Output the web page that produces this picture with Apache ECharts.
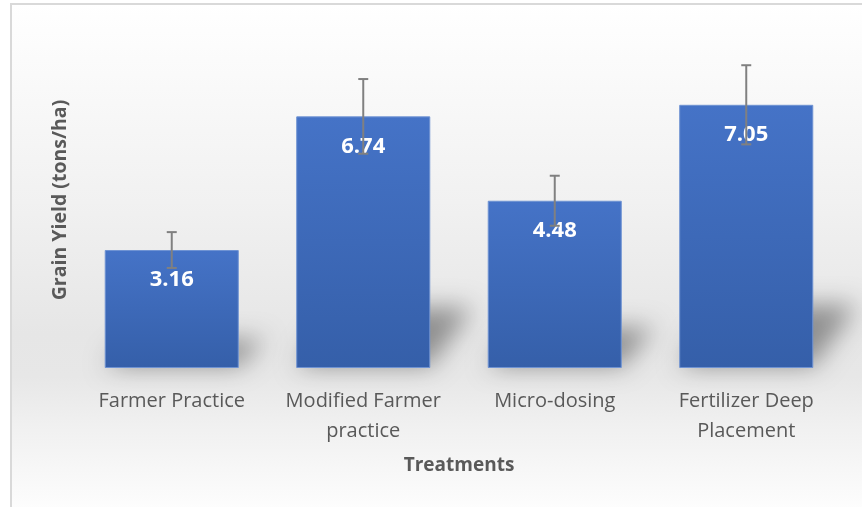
<!DOCTYPE html>
<html>
<head>
<meta charset="utf-8">
<script src="https://cdn.jsdelivr.net/npm/echarts@6/dist/echarts.min.js"></script>
<style>html,body{margin:0;padding:0;background:#fff}#c{width:862px;height:507px}</style>
</head>
<body>
<div id="c"></div>
<script>
var categories = ['Farmer Practice', 'Modified Farmer\npractice', 'Micro-dosing', 'Fertilizer Deep\nPlacement'];
var yields = [3.16, 6.74, 4.48, 7.05];
var errors = [0.48, 1.0, 0.67, 1.06];

var chart = echarts.init(document.getElementById('c'));
var FONT = 'Open Sans';

function shadowItem(params, api) {
  var i = params.dataIndex;
  var base = api.coord([i, 0]);
  var top = api.coord([i, api.value(1)]);
  var w = api.size([1, 0])[0] * 0.7;
  var x0 = base[0] - w / 2, x1 = base[0] + w / 2, y0 = base[1];
  var bh = y0 - top[1];
  var h = bh * 0.24;
  var dx = h * 0.5 + 12;
  var off = 3000;
  return {
    type: 'polygon',
    shape: { points: [[x0 - off, y0 - 2], [x1 - off, y0 - 2], [x1 + dx - off, y0 - h], [x0 + dx - off, y0 - h]] },
    style: { fill: '#000', shadowBlur: 24, shadowColor: 'rgba(0,0,0,0.38)', shadowOffsetX: off, shadowOffsetY: 0 }
  };
}

function errorItem(params, api) {
  var i = params.dataIndex;
  var v = api.value(1), e = api.value(2);
  var hi = api.coord([i, v + e]);
  var lo = api.coord([i, v - e]);
  var cap = 5;
  var st = { stroke: '#808080', lineWidth: 2 };
  return {
    type: 'group',
    children: [
      { type: 'line', shape: { x1: hi[0], y1: hi[1], x2: lo[0], y2: lo[1] }, style: st },
      { type: 'line', shape: { x1: hi[0] - cap, y1: hi[1], x2: hi[0] + cap, y2: hi[1] }, style: st },
      { type: 'line', shape: { x1: lo[0] - cap, y1: lo[1], x2: lo[0] + cap, y2: lo[1] }, style: st }
    ]
  };
}

var option = {
  animation: false,
  backgroundColor: '#ffffff',
  graphic: {
    elements: [{
      type: 'rect',
      z: -100,
      silent: true,
      shape: { x: 11, y: 4, width: 900, height: 600 },
      style: {
        fill: new echarts.graphic.LinearGradient(0, 0, 0, 1, [
          { offset: 0, color: '#ffffff' },
          { offset: 0.33, color: '#f1f1f1' },
          { offset: 0.55, color: '#e6e6e6' },
          { offset: 0.62, color: '#e7e7e7' },
          { offset: 0.7, color: '#f0f0f0' },
          { offset: 0.84, color: '#fdfdfd' },
          { offset: 1, color: '#ffffff' }
        ]),
        stroke: '#d9d9d9',
        lineWidth: 2
      }
    }]
  },
  grid: { left: 76, right: 20, top: 32, bottom: 139 },
  xAxis: {
    type: 'category',
    data: categories,
    axisLine: { show: false },
    axisTick: { show: false },
    axisLabel: { color: '#595959', fontFamily: FONT, fontSize: 20, lineHeight: 30, margin: 18, interval: 0 },
    name: 'Treatments',
    nameLocation: 'middle',
    nameGap: 86,
    nameTextStyle: { color: '#595959', fontFamily: FONT, fontSize: 19, fontWeight: 'bold', lineHeight: 24 }
  },
  yAxis: {
    type: 'value',
    min: 0,
    max: 9,
    interval: 1,
    axisLine: { show: false },
    axisTick: { show: false },
    axisLabel: { show: false },
    splitLine: { show: false },
    name: 'Grain Yield (tons/ha)',
    nameLocation: 'middle',
    nameRotate: 90,
    nameGap: 4,
    nameTextStyle: { color: '#595959', fontFamily: FONT, fontSize: 19.5, fontWeight: 'bold', lineHeight: 24 }
  },
  series: [
    {
      type: 'custom',
      z: 1,
      silent: true,
      renderItem: shadowItem,
      data: yields.map(function (v, i) { return [i, v]; })
    },
    {
      type: 'bar',
      z: 2,
      barWidth: '70%',
      data: yields,
      itemStyle: {
        color: new echarts.graphic.LinearGradient(0, 0, 0, 1, [
          { offset: 0, color: '#4573c7' },
          { offset: 1, color: '#355fa9' }
        ]),
        borderColor: '#6f93d3',
        borderWidth: 1
      },
      label: {
        show: true,
        position: 'insideTop',
        distance: 19,
        color: '#ffffff',
        fontFamily: FONT,
        fontWeight: 'bold',
        fontSize: 22,
        formatter: function (p) { return p.value.toFixed(2); }
      }
    },
    {
      type: 'custom',
      z: 5,
      silent: true,
      renderItem: errorItem,
      data: yields.map(function (v, i) { return [i, v, errors[i]]; })
    }
  ]
};
chart.setOption(option);
</script>
</body>
</html>
